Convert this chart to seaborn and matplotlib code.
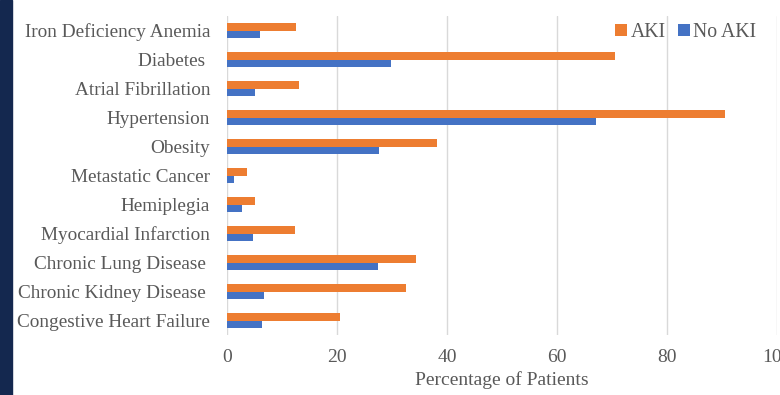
import matplotlib
matplotlib.use("Agg")
import matplotlib.pyplot as plt
import seaborn as sns
import pandas as pd
from matplotlib.patches import Rectangle
from matplotlib.lines import Line2D

conditions = ["Iron Deficiency Anemia", "Diabetes ", "Atrial Fibrillation", "Hypertension",
              "Obesity", "Metastatic Cancer", "Hemiplegia", "Myocardial Infarction",
              "Chronic Lung Disease ", "Chronic Kidney Disease ", "Congestive Heart Failure"]
aki = [12.5, 70.5, 13.0, 90.6, 38.1, 3.7, 5.0, 12.4, 34.4, 32.5, 20.5]
no_aki = [6.0, 29.8, 5.0, 67.1, 27.6, 1.3, 2.7, 4.8, 27.5, 6.7, 6.4]
groups = ["AKI", "No AKI"]
colors = ["#ED7D31", "#4472C4"]
xticks = [0, 20, 40, 60, 80, 100]

df = pd.DataFrame({
    "Condition": conditions * 2,
    "Value": aki + no_aki,
    "Group": [groups[0]] * len(conditions) + [groups[1]] * len(conditions),
})

sns.set_style("white")
plt.rcParams["font.family"] = ["Liberation Serif", "DejaVu Serif"]
text_color = "#595959"

fig = plt.figure(figsize=(7.8, 3.95), dpi=100)
ax = fig.add_axes([227 / 780, 1 - 335 / 395, 550 / 780, 319 / 395])
sns.barplot(data=df, y="Condition", x="Value", hue="Group", hue_order=groups,
            order=conditions, palette=colors, orient="h", width=0.5,
            saturation=1, linewidth=0, ax=ax, legend=False)
ax.set_xlim(0, 100)
ax.set_ylim(len(conditions) - 0.5, -0.5)
ax.set_xticks(xticks)
ax.set_xticklabels([str(t) for t in xticks], fontsize=14, color=text_color)
ax.tick_params(axis="y", labelsize=13.9, labelcolor=text_color, length=0, pad=12)
ax.tick_params(axis="x", length=0, pad=10)
ax.xaxis.grid(True, color="#d9d9d9", linewidth=1)
ax.set_axisbelow(True)
for s in ax.spines.values():
    s.set_visible(False)
ax.set_ylabel("")
ax.set_xlabel("Percentage of Patients", fontsize=14, color=text_color, labelpad=4)

handles = [Line2D([], [], marker="s", linestyle="none", markersize=8,
                  markerfacecolor=c, markeredgewidth=0) for c in colors]
ax.legend(handles, groups, loc="upper right", bbox_to_anchor=(0.995, 1.035), ncol=2,
          frameon=False, fontsize=14.2, handlelength=0.6, handletextpad=0.2,
          columnspacing=0.6, labelcolor=text_color)

fig.patches.append(Rectangle((0, 0), 12 / 780, 1, transform=fig.transFigure,
                             color="#14284f", zorder=0))

fig.savefig("out.png", dpi=100)
